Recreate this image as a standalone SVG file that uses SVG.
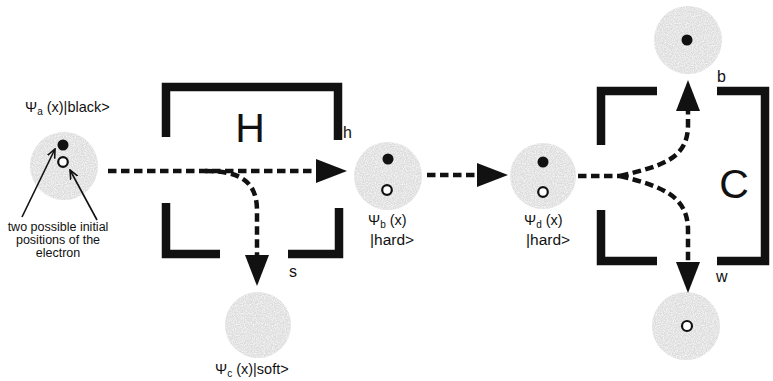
<svg xmlns="http://www.w3.org/2000/svg" width="773" height="381" viewBox="0 0 773 381">
  <style>
    text { font-family: "Liberation Sans", Arial, sans-serif; fill: #111; }
    .cloud { fill: #dcdcdc; filter: url(#grain); }
    .dot { fill: #111; }
    .hole { fill: #fff; stroke: #111; stroke-width: 2.2; }
    .wall { fill: none; stroke: #111; stroke-width: 8.5; stroke-linecap: butt; stroke-linejoin: miter; }
    .path { fill: none; stroke: #111; stroke-width: 4.5; stroke-dasharray: 8.5 4.5; }
    .pointer { fill: none; stroke: #111; stroke-width: 1.6; }
    .lbl { font-size: 14.5px; }
    .ket { font-size: 15.5px; }
    .sub { font-size: 10px; }
    .note { font-size: 12.5px; text-anchor: middle; }
    .port { font-size: 16px; }
    .big { font-size: 41px; text-anchor: middle; }
  </style>
  <defs>
    <!-- stippled probability cloud -->
    <filter id="grain" x="-10%" y="-10%" width="120%" height="120%">
      <feTurbulence type="fractalNoise" baseFrequency="0.9" numOctaves="2" seed="3" result="noise"/>
      <feColorMatrix in="noise" type="matrix" values="0 0 0 0 1  0 0 0 0 1  0 0 0 0 1  0 0 0 1.6 -0.55" result="speck"/>
      <feComposite in="speck" in2="SourceGraphic" operator="in" result="speckIn"/>
      <feMerge>
        <feMergeNode in="SourceGraphic"/>
        <feMergeNode in="speckIn"/>
      </feMerge>
    </filter>
    <marker id="head" markerUnits="userSpaceOnUse" markerWidth="31" markerHeight="24" viewBox="0 0 31 24" refX="0" refY="12" orient="auto">
      <path d="M0,0 L31,12 L0,24 Z" fill="#111"/>
    </marker>
    <marker id="barb" markerUnits="userSpaceOnUse" markerWidth="10" markerHeight="10" viewBox="0 0 10 10" refX="9" refY="5" orient="auto">
      <path d="M0,1 L9,5 L0,9" fill="none" stroke="#111" stroke-width="1.6"/>
    </marker>
  </defs>

  <!-- hardness box H -->
  <g id="box-H">
    <path class="wall" d="M166,137 V87 H338 V140"/>
    <path class="wall" d="M166,203 V254 H220"/>
    <path class="wall" d="M288,254 H339 V208"/>
    <text class="big" x="250" y="142">H</text>
    <text class="port" x="343" y="138">h</text>
    <text class="port" x="289" y="277">s</text>
  </g>

  <!-- colour box C -->
  <g id="box-C">
    <path class="wall" d="M601,145 V91 H657"/>
    <path class="wall" d="M717,91 H765 V261 H717"/>
    <path class="wall" d="M601,210 V261 H657"/>
    <text class="big" x="734" y="198">C</text>
    <text class="port" x="717" y="82">b</text>
    <text class="port" x="716" y="282">w</text>
  </g>

  <!-- initial state -->
  <g id="state-a">
    <circle class="cloud" cx="64" cy="166" r="34"/>
    <circle class="dot" cx="63" cy="145" r="5.5"/>
    <circle class="hole" cx="63" cy="162" r="4.8"/>
    <text class="lbl" x="25" y="112">Ψ<tspan class="sub" dy="3">a</tspan><tspan dy="-3"> (x)|black&gt;</tspan></text>
    <line class="pointer" x1="22" y1="217" x2="55" y2="149" marker-end="url(#barb)"/>
    <line class="pointer" x1="97" y1="220" x2="70" y2="170" marker-end="url(#barb)"/>
    <text class="note" x="58" y="231">two possible initial</text>
    <text class="note" x="58" y="244">positions of the</text>
    <text class="note" x="58" y="257">electron</text>
  </g>

  <!-- hard output -->
  <g id="state-b">
    <circle class="cloud" cx="388" cy="176" r="34"/>
    <circle class="dot" cx="388" cy="159" r="5.5"/>
    <circle class="hole" cx="387" cy="190" r="4.8"/>
    <text class="lbl" x="368" y="225">Ψ<tspan class="sub" dy="3">b</tspan><tspan dy="-3"> (x)</tspan></text>
    <text class="ket" x="370" y="245">|hard&gt;</text>
  </g>

  <!-- soft output -->
  <g id="state-c">
    <circle class="cloud" cx="258" cy="325" r="33"/>
    <text class="lbl" x="215" y="374">Ψ<tspan class="sub" dy="3">c</tspan><tspan dy="-3"> (x)|soft&gt;</tspan></text>
  </g>

  <!-- state entering C -->
  <g id="state-d">
    <circle class="cloud" cx="543" cy="176" r="33"/>
    <circle class="dot" cx="543" cy="162" r="5.5"/>
    <circle class="hole" cx="543" cy="192" r="4.8"/>
    <text class="lbl" x="524" y="225">Ψ<tspan class="sub" dy="3">d</tspan><tspan dy="-3"> (x)</tspan></text>
    <text class="ket" x="526" y="245">|hard&gt;</text>
  </g>

  <!-- black output -->
  <g id="state-black">
    <circle class="cloud" cx="688" cy="40" r="34"/>
    <circle class="dot" cx="687" cy="40" r="5.5"/>
  </g>

  <!-- white output -->
  <g id="state-white">
    <circle class="cloud" cx="686" cy="326" r="34"/>
    <circle class="hole" cx="687" cy="326" r="5"/>
  </g>

  <!-- electron paths -->
  <g id="connectors">
    <path class="path" d="M108,171 H316" marker-end="url(#head)"/>
    <path class="path" d="M205,171 C240,171 257,181 257,211 V255" marker-end="url(#head)"/>
    <path class="path" d="M427,175 H477" marker-end="url(#head)"/>
    <path class="path" d="M578,176 H620"/>
    <path class="path" d="M620,176 C660,166 688,160 688,125 V111" marker-end="url(#head)"/>
    <path class="path" d="M620,176 C660,186 688,195 688,230 V262" marker-end="url(#head)"/>
  </g>
</svg>
